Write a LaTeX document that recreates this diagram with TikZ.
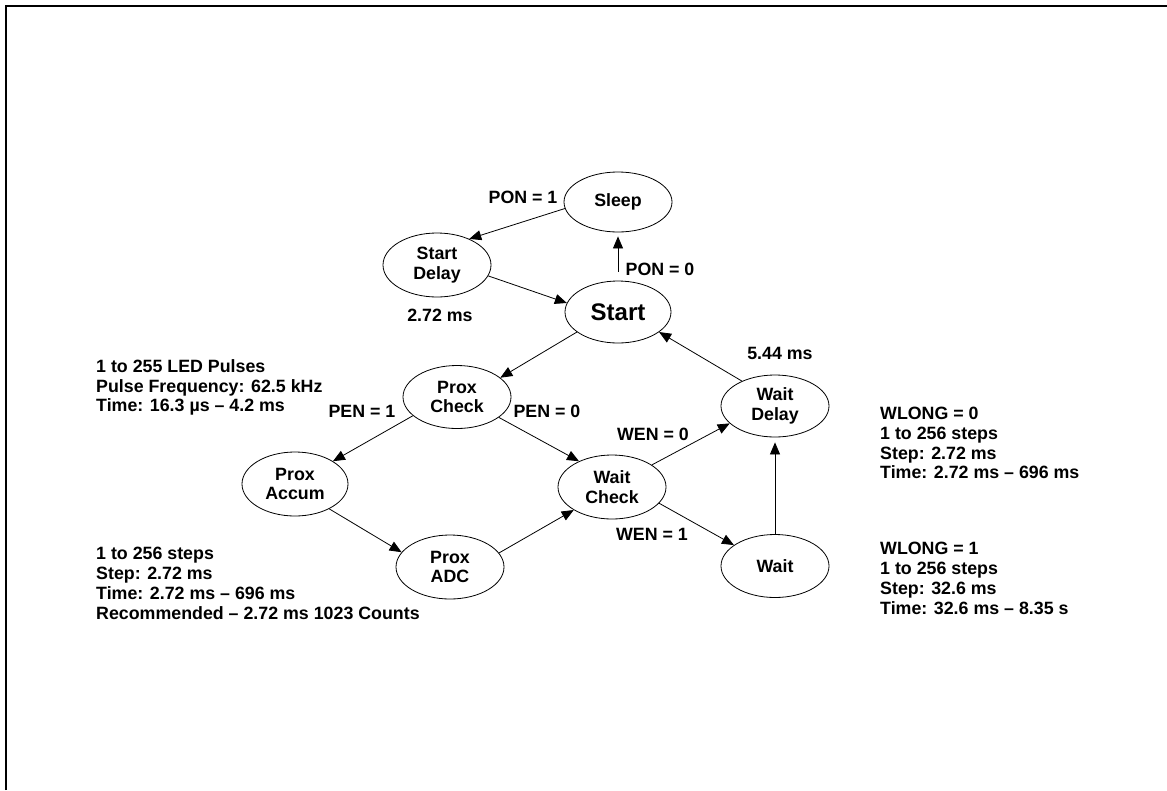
\documentclass[tikz,border=0pt]{standalone}
\usepackage{fontspec}
\setmainfont{Liberation Sans}
\usetikzlibrary{shapes.geometric,arrows.meta}
\newcommand\lblfont{\fontsize{17.8}{19.5}\selectfont\bfseries}
\newcommand\bigfont{\fontsize{24}{26}\selectfont\bfseries}
\begin{document}
\begin{tikzpicture}[x=1pt,y=-1pt,
  stnode/.style={ellipse,draw,line width=0.8pt,minimum width=108pt,minimum height=63pt,inner sep=0pt,align=center,font=\lblfont},
  arr/.style={-{Triangle[length=12pt,width=10pt]},line width=0.8pt},
  lbl/.style={font=\lblfont,inner sep=0pt},
  txt/.style={font=\lblfont,inner sep=0pt,anchor=base west}]
\useasboundingbox[fill=white] (0,0) rectangle (1167,790);
% frame
\draw[line width=1.6pt] (6,790) -- (6,5.2);
\draw[line width=2.2pt] (5.2,6.3) -- (1167,6.3);
% states
\node[stnode,minimum height=60pt] (sleep) at (618,202) {Sleep};
\node[stnode,minimum height=64pt] (sdelay) at (437,265) {Start\\Delay};
\node[stnode,minimum width=106pt,minimum height=62pt,font=\bigfont] (start) at (618,312) {Start};
\node[stnode] (pcheck) at (457,397) {Prox\\Check};
\node[stnode,minimum width=106pt,minimum height=64pt] (paccum) at (295,484) {Prox\\Accum};
\node[stnode,minimum height=64pt] (padc) at (450,567) {Prox\\ADC};
\node[stnode,minimum height=64pt] (wcheck) at (612,487) {Wait\\Check};
\node[stnode,minimum height=62pt] (wdelay) at (775,406) {Wait\\Delay};
\node[stnode] (wait) at (775,566) {Wait};
% transitions
\draw[arr] (sleep.187) -- (sdelay.39);
\draw[arr] (sdelay.-12) -- (start.170);
\draw[arr,shorten <=9pt,shorten >=4pt] (start.north) -- (sleep.south);
\draw[arr] (start.206) -- (pcheck.24);
\draw[arr] (wdelay.143) -- (start.-26);
\draw[arr] (pcheck.203) -- (paccum.31);
\draw[arr] (pcheck.-26) -- (wcheck.142);
\draw[arr] (paccum.-36) -- (padc.163);
\draw[arr] (padc.16) -- (wcheck.211);
\draw[arr] (wcheck.29) -- (wdelay.201);
\draw[arr] (wcheck.-19) -- (wait.153);
\draw[arr,shorten >=5pt] (wait.north) -- (wdelay.south);
% transition labels
\node[lbl] (l1) at (523,197) {PON = 1};
\node[lbl] (l2) at (660,269) {PON = 0};
\node[lbl] (l3) at (440,315) {2.72 ms};
\node[lbl] (l4) at (780,353) {5.44 ms};
\node[lbl] (l5) at (362,411) {PEN = 1};
\node[lbl] (l6) at (547,411) {PEN = 0};
\node[lbl] (l7) at (653,434) {WEN = 0};
\node[lbl] (l8) at (652,534) {WEN = 1};
% left top block
\node[txt] (a1) at (96,372) {1 to 255 LED Pulses};
\node[txt] (a2) at (96,392) {Pulse Frequency: 62.5 kHz};
\node[txt] (a3) at (96,411) {Time: 16.3 µs – 4.2 ms};
% left bottom block
\node[txt] (b1) at (96,559) {1 to 256 steps};
\node[txt] (b2) at (96,579) {Step: 2.72 ms};
\node[txt] (b3) at (96,599) {Time: 2.72 ms – 696 ms};
\node[txt] (b4) at (96,619) {Recommended – 2.72 ms 1023 Counts};
% right blocks
\node[txt] (c1) at (880,419) {WLONG = 0};
\node[txt] (c2) at (880,439) {1 to 256 steps};
\node[txt] (c3) at (880,459) {Step: 2.72 ms};
\node[txt] (c4) at (880,478) {Time: 2.72 ms – 696 ms};
\node[txt] (d1) at (880,554) {WLONG = 1};
\node[txt] (d2) at (880,574) {1 to 256 steps};
\node[txt] (d3) at (880,594) {Step: 32.6 ms};
\node[txt] (d4) at (880,614) {Time: 32.6 ms – 8.35 s};
\end{tikzpicture}
\end{document}
